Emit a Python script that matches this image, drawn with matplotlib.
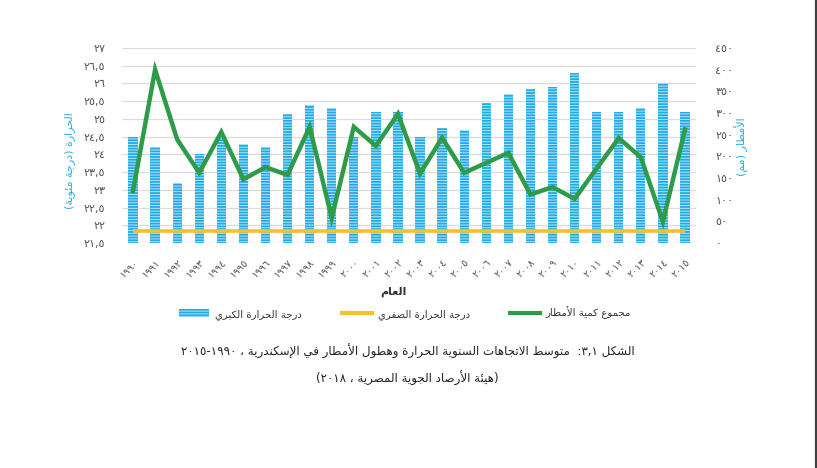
import re
import matplotlib
matplotlib.use("Agg")
import matplotlib.pyplot as plt
from matplotlib.patches import Rectangle
from matplotlib.lines import Line2D

# data
years = [1990, 1991, 1992, 1993, 1994, 1995, 1996, 1997, 1998, 1999, 2000, 2001, 2002,
         2003, 2004, 2005, 2006, 2007, 2008, 2009, 2010, 2011, 2012, 2013, 2014, 2015]
max_temp = [24.5, 24.2, 23.2, 24.0, 24.45, 24.3, 24.2, 25.15, 25.4, 25.3, 24.5, 25.2, 25.2,
            24.5, 24.75, 24.7, 25.45, 25.7, 25.85, 25.9, 26.3, 25.2, 25.2, 25.3, 26.0, 25.2]
min_temp = [21.85, 21.85, 21.85, 21.85, 21.85, 21.85, 21.85, 21.85, 21.85, 21.85, 21.85, 21.85, 21.85,
            21.85, 21.85, 21.85, 21.85, 21.85, 21.85, 21.85, 21.85, 21.85, 21.85, 21.85, 21.85, 21.85]
rain = [120, 400, 239, 162, 256, 147, 175, 157, 268, 58, 268, 224, 298,
        160, 243, 162, 185, 208, 112, 129, 102, 172, 242, 198, 49, 262]

temp_ticks = [21.5, 22, 22.5, 23, 23.5, 24, 24.5, 25, 25.5, 26, 26.5, 27]
rain_ticks = [0, 50, 100, 150, 200, 250, 300, 350, 400, 450]

label_max = "درجة الحرارة الكبري"
label_min = "درجة الحرارة الصفري"
label_rain = "مجموع كمية الأمطار"
x_title = "العام"
temp_title = "الحرارة (درجة مئوية)"
rain_title = "الأمطار (مم)"
caption_1 = "الشكل ٣,١:  متوسط الاتجاهات السنوية الحرارة وهطول الأمطار في الإسكندرية ، ١٩٩٠-٢٠١٥"
caption_2 = "(هيئة الأرصاد الجوية المصرية ، ٢٠١٨)"

# --- minimal arabic shaping (matplotlib has no complex text layout) ---
letters = [chr(c) for c in range(0x621, 0x63B)] + [chr(c) for c in range(0x641, 0x64B)]
nforms = [1, 2, 2, 2, 2, 4, 2, 4, 2, 4, 4, 4, 4, 4, 2, 2, 2, 2, 4, 4, 4, 4, 4, 4, 4, 4,
          4, 4, 4, 4, 4, 4, 4, 2, 2, 4]
FORMS = {}
code = 0xFE80
for ch, n in zip(letters, nforms):
    FORMS[ch] = [chr(code + i) for i in range(n)]
    code += n
LAM_ALEF = {'\u0622': 0xFEF5, '\u0623': 0xFEF7, '\u0625': 0xFEF9, '\u0627': 0xFEFB}


def ar(text):
    tokens = []
    i = 0
    while i < len(text):
        c = text[i]
        if c == '\u0644' and i + 1 < len(text) and text[i + 1] in LAM_ALEF:
            base = LAM_ALEF[text[i + 1]]
            tokens.append([chr(base), chr(base + 1)])
            i += 2
            continue
        tokens.append(FORMS.get(c, c))
        i += 1
    out = []
    for k, t in enumerate(tokens):
        if isinstance(t, str):
            out.append(t)
            continue
        prev = tokens[k - 1] if k > 0 else None
        nxt = tokens[k + 1] if k + 1 < len(tokens) else None
        p = isinstance(prev, list) and len(prev) == 4 and len(t) >= 2
        n = len(t) == 4 and isinstance(nxt, list) and len(nxt) >= 2
        out.append(t[3 if p and n else 1 if p else 2 if n else 0])
    s = ''.join(out)[::-1]
    s = re.sub(r'[0-9\u0660-\u0669]+(?:[,.][0-9\u0660-\u0669]+)*', lambda m: m.group()[::-1], s)
    return s.translate({ord('('): ')', ord(')'): '('})


def arnum(v):
    s = ('%g' % v).replace('.', ',')
    return s.translate({ord(str(d)): chr(0x660 + d) for d in range(10)})


plt.rcParams['font.family'] = ['DejaVu Sans']
plt.rcParams['hatch.linewidth'] = 1.3

fig = plt.figure(figsize=(8.17, 4.68), dpi=100)
ax = fig.add_axes([0.1493, 0.4808, 0.7026, 0.4166])
ax2 = ax.twinx()

bar_face = '#b4e6fa'
bar_hatch = '#22a9e6'

xs = list(range(len(years)))
ax.bar(xs, [m - temp_ticks[0] for m in max_temp], 0.42, bottom=temp_ticks[0],
       facecolor=bar_face, edgecolor=bar_hatch, hatch='------', linewidth=0, zorder=2)
ax.plot(xs, min_temp, color='#fbbf2e', linewidth=2.6, solid_capstyle='butt', zorder=3)
ax2.plot(xs, rain, color='#2e9b48', linewidth=3.2, solid_joinstyle='miter', zorder=4)

ax.set_xlim(-0.5, len(years) - 0.5)
ax.set_ylim(temp_ticks[0], temp_ticks[-1])
ax2.set_ylim(rain_ticks[0], rain_ticks[-1])
ax.set_yticks(temp_ticks)
ax.set_yticklabels([arnum(v) for v in temp_ticks])
ax2.set_yticks(rain_ticks)
ax2.set_yticklabels([arnum(v) for v in rain_ticks])
ax.set_xticks(xs)
ax.set_xticklabels([arnum(y) for y in years], rotation=45, ha='right', va='top',
                   rotation_mode='anchor')

ax.grid(axis='y', color='#dcdcdc', linewidth=0.9, zorder=0)
ax.set_axisbelow(True)
for a in (ax, ax2):
    for sp in a.spines.values():
        sp.set_visible(False)
ax.tick_params(axis='y', length=0, pad=12, labelsize=8, labelcolor='#555555')
ax2.tick_params(axis='y', length=0, pad=14, labelsize=8, labelcolor='#555555')
ax.tick_params(axis='x', length=0, pad=10, labelsize=7.2, labelcolor='#555555')

fig.text(0.0845, 0.656, ar(temp_title), rotation=90, ha='center', va='center',
         color='#29aee3', fontsize=8)
fig.text(0.908, 0.686, ar(rain_title), rotation=90, ha='center', va='center',
         color='#29aee3', fontsize=8)
fig.text(0.481, 0.376, ar(x_title), ha='center', va='center', color='#333333',
         fontsize=8, fontweight='bold')

handles = [Rectangle((0, 0), 1, 1, facecolor=bar_face, edgecolor=bar_hatch,
                     hatch='------', linewidth=0),
           Line2D([], [], color='#fbbf2e', linewidth=3),
           Line2D([], [], color='#2e9b48', linewidth=3)]
fig.legend(handles, [ar(label_max), ar(label_min), ar(label_rain)], loc='center',
           bbox_to_anchor=(0.496, 0.331), ncol=3, frameon=False, fontsize=7.3,
           handlelength=2.9, handletextpad=0.6, columnspacing=4.0, labelcolor='#333333')

fig.text(0.499, 0.248, ar(caption_1), ha='center', va='center', color='#222222', fontsize=8.6)
fig.text(0.499, 0.192, ar(caption_2), ha='center', va='center', color='#222222', fontsize=8.6)

fig.add_artist(Line2D([0.9985, 0.9985], [0, 1], color='#404040', linewidth=1.6,
                      transform=fig.transFigure))

fig.savefig('out.png', dpi=100)
